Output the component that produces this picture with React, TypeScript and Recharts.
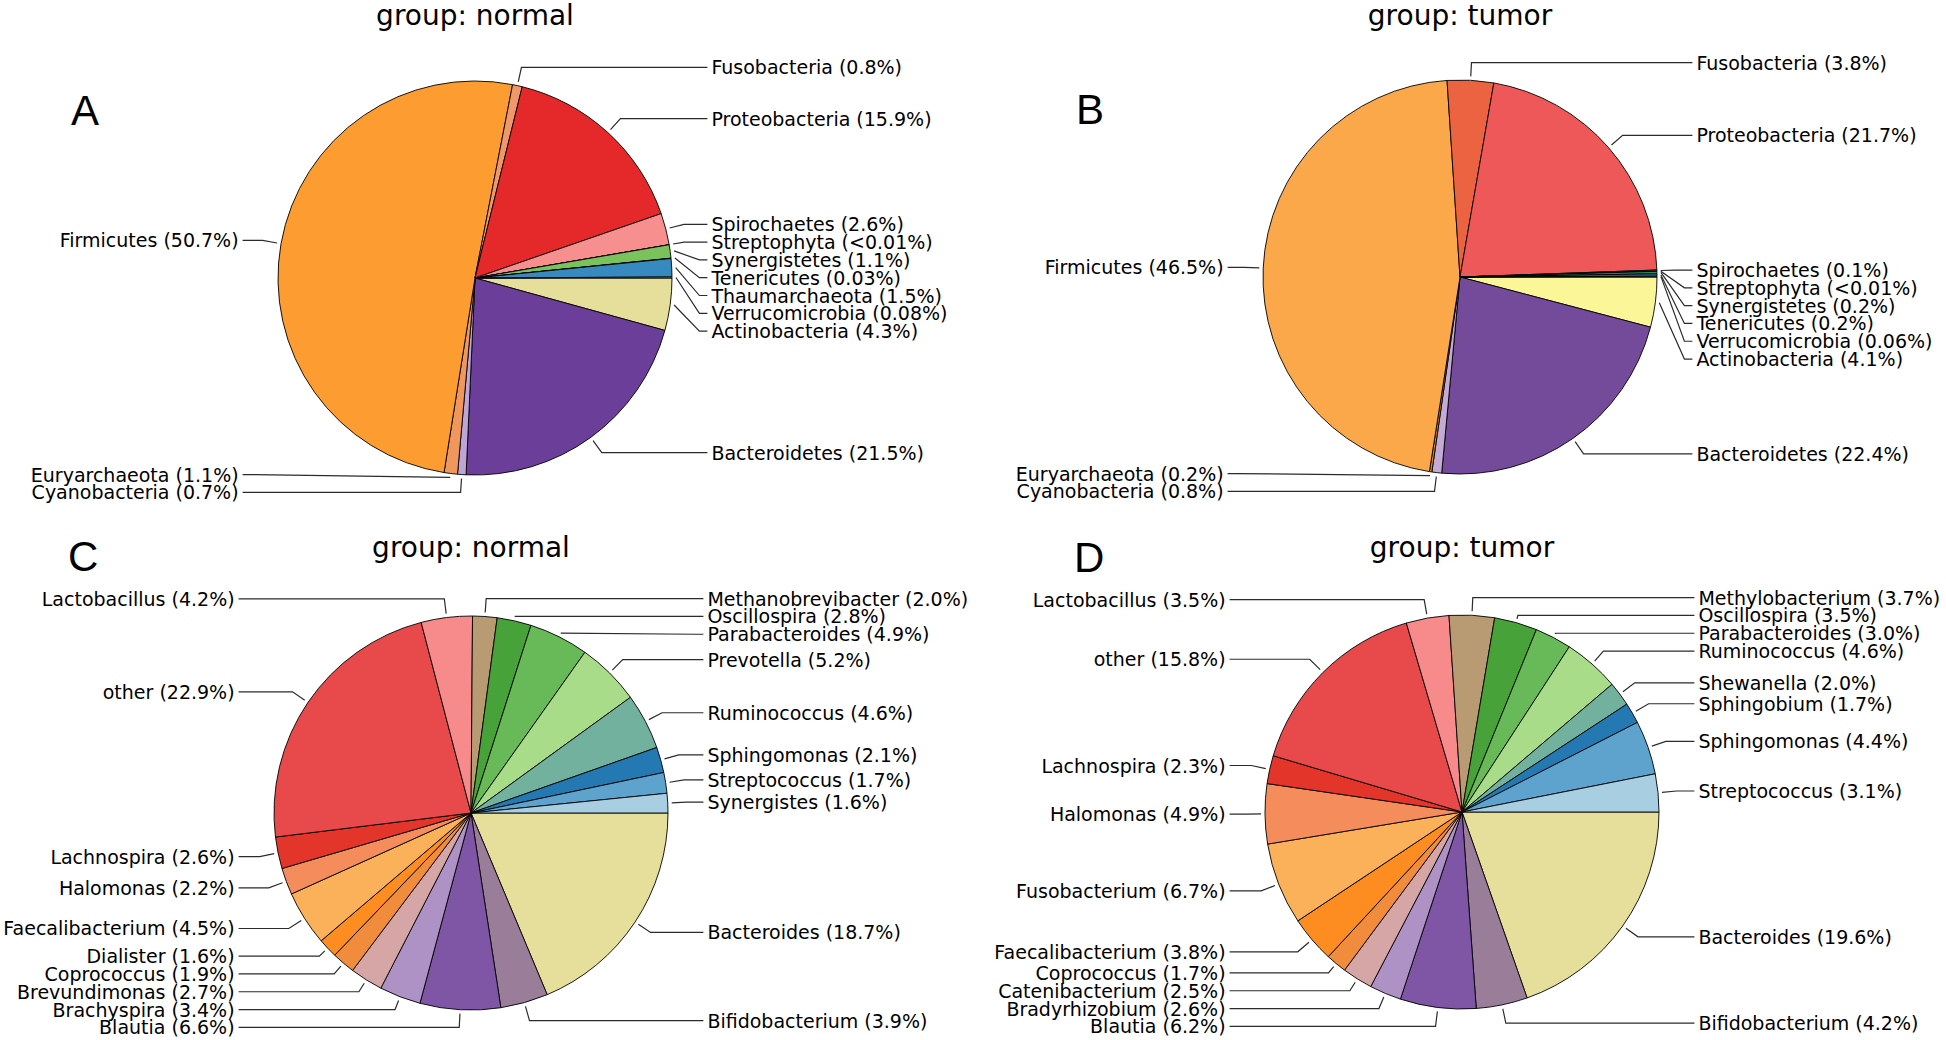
import React from 'react';
import { PieChart, Pie, Cell } from 'recharts';

// ---------- Data ----------
const namesA = ['Actinobacteria', 'Bacteroidetes', 'Cyanobacteria', 'Euryarchaeota', 'Firmicutes', 'Fusobacteria', 'Proteobacteria', 'Spirochaetes', 'Streptophyta', 'Synergistetes', 'Tenericutes', 'Thaumarchaeota', 'Verrucomicrobia'];
const valuesA = [4.3, 21.5, 0.7, 1.1, 50.7, 0.8, 15.9, 2.6, 0.005, 1.1, 0.03, 1.5, 0.08];
const pctA = ['4.3%', '21.5%', '0.7%', '1.1%', '50.7%', '0.8%', '15.9%', '2.6%', '<0.01%', '1.1%', '0.03%', '1.5%', '0.08%'];
const colorsA = ['#e6df9b', '#6b3f99', '#bea5d8', '#f0975e', '#fd9c31', '#f1986a', '#e5292b', '#f88f8f', '#c7e9a0', '#7ac25c', '#1f78b4', '#378ac0', '#a6cee3'];

const namesB = ['Actinobacteria', 'Bacteroidetes', 'Cyanobacteria', 'Euryarchaeota', 'Firmicutes', 'Fusobacteria', 'Proteobacteria', 'Spirochaetes', 'Streptophyta', 'Synergistetes', 'Tenericutes', 'Verrucomicrobia'];
const valuesB = [4.1, 22.4, 0.8, 0.2, 46.5, 3.8, 21.7, 0.1, 0.005, 0.2, 0.2, 0.06];
const pctB = ['4.1%', '22.4%', '0.8%', '0.2%', '46.5%', '3.8%', '21.7%', '0.1%', '<0.01%', '0.2%', '0.2%', '0.06%'];
const colorsB = ['#fbf799', '#744b9a', '#c3abd6', '#d9822b', '#fba84a', '#ec6341', '#ef5859', '#8c6d3f', '#4d9a4d', '#2f8f5a', '#2a6fa8', '#7fb5d5'];

const namesC = ['Bacteroides', 'Bifidobacterium', 'Blautia', 'Brachyspira', 'Brevundimonas', 'Coprococcus', 'Dialister', 'Faecalibacterium', 'Halomonas', 'Lachnospira', 'other', 'Lactobacillus', 'Methanobrevibacter', 'Oscillospira', 'Parabacteroides', 'Prevotella', 'Ruminococcus', 'Sphingomonas', 'Streptococcus', 'Synergistes'];
const valuesC = [18.7, 3.9, 6.6, 3.4, 2.7, 1.9, 1.6, 4.5, 2.2, 2.6, 22.9, 4.2, 2.0, 2.8, 4.9, 5.2, 4.6, 2.1, 1.7, 1.6];
const pctC = ['18.7%', '3.9%', '6.6%', '3.4%', '2.7%', '1.9%', '1.6%', '4.5%', '2.2%', '2.6%', '22.9%', '4.2%', '2.0%', '2.8%', '4.9%', '5.2%', '4.6%', '2.1%', '1.7%', '1.6%'];

const namesD = ['Bacteroides', 'Bifidobacterium', 'Blautia', 'Bradyrhizobium', 'Catenibacterium', 'Coprococcus', 'Faecalibacterium', 'Fusobacterium', 'Halomonas', 'Lachnospira', 'other', 'Lactobacillus', 'Methylobacterium', 'Oscillospira', 'Parabacteroides', 'Ruminococcus', 'Shewanella', 'Sphingobium', 'Sphingomonas', 'Streptococcus'];
const valuesD = [19.6, 4.2, 6.2, 2.6, 2.5, 1.7, 3.8, 6.7, 4.9, 2.3, 15.8, 3.5, 3.7, 3.5, 3.0, 4.6, 2.0, 1.7, 4.4, 3.1];
const pctD = ['19.6%', '4.2%', '6.2%', '2.6%', '2.5%', '1.7%', '3.8%', '6.7%', '4.9%', '2.3%', '15.8%', '3.5%', '3.7%', '3.5%', '3.0%', '4.6%', '2.0%', '1.7%', '4.4%', '3.1%'];

const colorsGenus = ['#e5df9b', '#9a7d99', '#7f55a6', '#ae92c6', '#d6a6a6', '#f08c3c', '#fd8d21', '#fbb05a', '#f48c5b', '#e4352b', '#e84a4b', '#f78a8a', '#b89b72', '#48a23a', '#68b957', '#a8dc88', '#71b19e', '#2479b2', '#5ea3ce', '#a8cee2'];

const titles = ['group: normal', 'group: tumor', 'group: normal', 'group: tumor'];
const panelLetters = ['A', 'B', 'C', 'D'];

// ---------- Layout constants ----------
const W = 1946;
const H = 1040;
const R = 197;
const LABEL_FONT = 19;
const K_NAT = 1.095;
const K_BOUND = 1.088;
const GAP = 17.8;
const LABEL_R = 1.2;
const ANCHOR_R = 1.02;

type Panel = {
  names: string[];
  values: number[];
  pcts: string[];
  colors: string[];
  cx: number;
  cy: number;
  title: string;
  letter: string;
  titleY: number;
  letterX: number;
  letterY: number;
};

const panels: Panel[] = [
  { names: namesA, values: valuesA, pcts: pctA, colors: colorsA, cx: 475, cy: 278, title: titles[0], letter: panelLetters[0], titleY: 25, letterX: 71, letterY: 125 },
  { names: namesB, values: valuesB, pcts: pctB, colors: colorsB, cx: 1460, cy: 277, title: titles[1], letter: panelLetters[1], titleY: 25, letterX: 1076, letterY: 124 },
  { names: namesC, values: valuesC, pcts: pctC, colors: colorsGenus, cx: 471, cy: 813, title: titles[2], letter: panelLetters[2], titleY: 557, letterX: 68, letterY: 571 },
  { names: namesD, values: valuesD, pcts: pctD, colors: colorsGenus, cx: 1462, cy: 812, title: titles[3], letter: panelLetters[3], titleY: 557, letterX: 1074, letterY: 572 },
];

// Spread labels vertically on each side so they do not overlap
function layoutLabels(values: number[], cx: number, cy: number, r: number): number[] {
  const total = values.reduce((a, b) => a + b, 0);
  let cum = 0;
  const items = values.map((v, i) => {
    const mid = -((cum + v / 2) / total) * 360;
    cum += v;
    const rad = (mid * Math.PI) / 180;
    return { i, right: Math.cos(rad) >= 0, ny: cy - K_NAT * r * Math.sin(rad) };
  });
  const ys: number[] = new Array(values.length).fill(cy);
  const top = cy - K_BOUND * r;
  const bot = cy + K_BOUND * r;
  [true, false].forEach((side) => {
    const g = items.filter((it) => it.right === side).sort((a, b) => a.ny - b.ny);
    const y = g.map((it) => it.ny);
    for (let j = 0; j < y.length; j++) {
      y[j] = Math.max(y[j], top);
      if (j > 0) y[j] = Math.max(y[j], y[j - 1] + GAP);
    }
    if (y.length) y[y.length - 1] = Math.min(y[y.length - 1], bot);
    for (let j = y.length - 2; j >= 0; j--) y[j] = Math.min(y[j], y[j + 1] - GAP);
    g.forEach((it, j) => (ys[it.i] = y[j]));
  });
  return ys;
}

function makeLabel(panel: Panel) {
  const ys = layoutLabels(panel.values, panel.cx, panel.cy, R);
  return (props: any) => {
    const { midAngle, index } = props;
    const cx = Number(props.cx);
    const cy = Number(props.cy);
    const r = Number(props.outerRadius);
    const rad = (midAngle * Math.PI) / 180;
    const c = Math.cos(rad);
    const s = Math.sin(rad);
    const right = c >= 0;
    const ly = ys[index];
    const ax = cx + ANCHOR_R * r * c;
    const ay = cy - ANCHOR_R * r * s;
    const textX = right ? cx + LABEL_R * r : cx - LABEL_R * r;
    const lineEnd = right ? textX - 4 : textX + 4;
    const bound = right ? textX - 12 : textX + 12;
    let ex = bound;
    if (Math.abs(s) > 1e-6) {
      const t = (ly - ay) / -s;
      if (t > 0) ex = ax + t * c;
    }
    if (right) ex = Math.min(Math.max(ex, ax), bound);
    else ex = Math.max(Math.min(ex, ax), bound);
    const label = `${panel.names[index]} (${panel.pcts[index]})`;
    return (
      <g key={`lbl-${index}`}>
        <polyline
          points={`${lineEnd},${ly} ${ex},${ly} ${ax},${ay}`}
          fill="none"
          stroke="#2b2b2b"
          strokeWidth={1.2}
        />
        <text
          x={textX}
          y={ly}
          textAnchor={right ? 'start' : 'end'}
          dominantBaseline="central"
          fontFamily="'DejaVu Sans', sans-serif"
          fontSize={LABEL_FONT}
          fill="#000"
        >
          {label}
        </text>
      </g>
    );
  };
}

export default function App() {
  return (
    <div style={{ position: 'absolute', left: 0, top: 0, width: W, height: H, background: '#fff' }}>
      <PieChart width={W} height={H} margin={{ top: 0, right: 0, bottom: 0, left: 0 }}>
        {panels.map((p, pi) => {
          const data = p.names.map((n, i) => ({ name: n, value: p.values[i] }));
          return (
            <Pie
              key={`pie-${pi}`}
              data={data}
              dataKey="value"
              nameKey="name"
              cx={p.cx}
              cy={p.cy}
              innerRadius={0}
              outerRadius={R}
              startAngle={0}
              endAngle={-360}
              paddingAngle={0}
              stroke="#000"
              strokeWidth={0.9}
              isAnimationActive={false}
              labelLine={false}
              label={makeLabel(p)}
            >
              {data.map((d, i) => (
                <Cell key={`c-${pi}-${i}`} fill={p.colors[i]} />
              ))}
            </Pie>
          );
        })}
      </PieChart>
      <svg width={W} height={H} style={{ position: 'absolute', left: 0, top: 0, pointerEvents: 'none' }}>
        {panels.map((p, pi) => (
          <g key={`t-${pi}`}>
            <text
              x={p.cx}
              y={p.titleY}
              textAnchor="middle"
              fontFamily="'DejaVu Sans', sans-serif"
              fontSize={28}
              fill="#000"
            >
              {p.title}
            </text>
            <text
              x={p.letterX}
              y={p.letterY}
              textAnchor="start"
              fontFamily="'Liberation Sans', Arial, sans-serif"
              fontSize={42}
              fill="#000"
            >
              {p.letter}
            </text>
          </g>
        ))}
      </svg>
    </div>
  );
}
